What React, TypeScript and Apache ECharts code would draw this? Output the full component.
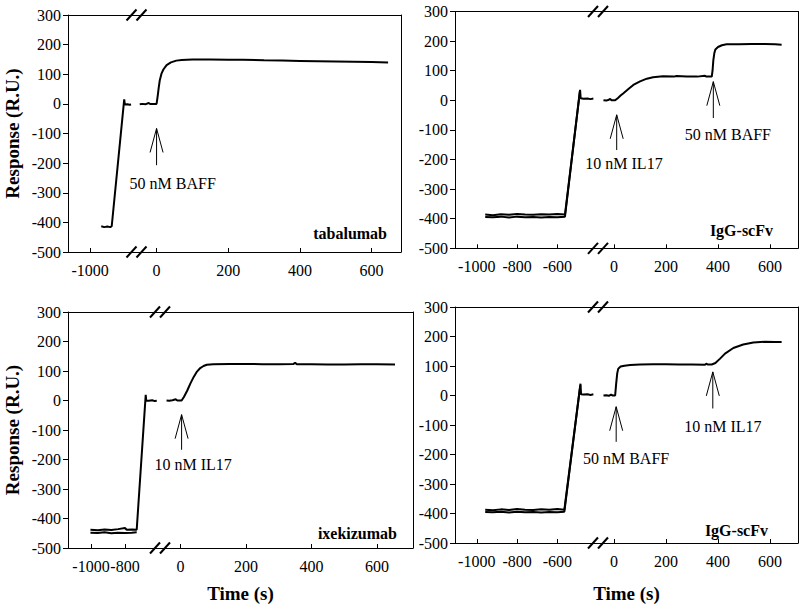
import React, { useEffect, useRef } from "react";
import * as echarts from "echarts";

// ---------- data (time in s, response in R.U.) ----------
const yMin = -500;
const yMax = 300;
const yStep = 100;

const tabalumabPre: [number, number][] = [
  [-945, -413], [-930, -416], [-915, -414], [-900, -416], [-893, -413],
  [-831, 15], [-828, -2], [-815, -1], [-805, -3], [-797, -2],
];
const tabalumabPost: [number, number][] = [
  [-47, -1], [-40, 0], [-30, -1], [-22, 3], [-18, 0], [-10, 0], [0, 0], [3, 25], [6, 55],
  [9, 80], [14, 103], [19, 116], [28, 131], [40, 140], [55, 146], [70, 148], [100, 150],
  [150, 150], [200, 149], [240, 149], [300, 147], [350, 146], [400, 145], [450, 144],
  [500, 143], [550, 142], [600, 141], [646, 140],
];

const scfv1PreA: [number, number][] = [
  [-958, -386], [-920, -388], [-880, -385], [-840, -387], [-800, -384], [-760, -386],
  [-720, -387], [-680, -385], [-640, -386], [-600, -384], [-562, -386], [-487, 35],
  [-484, 7], [-470, 5], [-450, 6], [-435, 4], [-421, 6],
];
const scfv1PreB: [number, number][] = [
  [-958, -394], [-920, -395], [-880, -393], [-840, -396], [-800, -393], [-760, -395],
  [-720, -394], [-680, -396], [-640, -394], [-600, -395], [-562, -393], [-488, 30],
];
const scfv1Post: [number, number][] = [
  [-41, 0], [-30, -1], [-20, 2], [-15, 5], [-10, 0], [0, 0], [4, 0], [15, 8], [25, 16],
  [36, 24], [55, 38], [74, 52], [100, 64], [126, 73], [150, 78], [188, 81], [230, 80],
  [240, 82], [280, 80], [320, 80], [350, 83], [355, 80], [376, 80], [379, 100], [382, 135],
  [386, 160], [390, 172], [400, 180], [415, 186], [433, 189], [480, 189], [530, 190],
  [580, 190], [620, 189], [645, 188],
];

const ixePreA: [number, number][] = [
  [-1003, -438], [-960, -440], [-920, -437], [-880, -439], [-840, -436], [-800, -432],
  [-790, -438], [-760, -437], [-731, -438], [-678, 19], [-675, 0], [-660, -1], [-640, 1],
  [-625, -2], [-613, -1],
];
const ixePreB: [number, number][] = [
  [-1003, -448], [-960, -449], [-920, -447], [-880, -450], [-840, -448], [-800, -449],
  [-760, -448], [-731, -447],
];
const ixePost: [number, number][] = [
  [-43, 0], [-35, -1], [-25, 1], [-15, 4], [-10, 0], [0, 0], [3, 0], [10, 12], [20, 33],
  [30, 58], [40, 80], [50, 98], [60, 110], [70, 117], [80, 121], [100, 123], [150, 124],
  [200, 124], [250, 123], [300, 123], [345, 124], [350, 128], [355, 123], [400, 123],
  [450, 122], [500, 122], [550, 123], [600, 123], [655, 122],
];

const scfv2PreA: [number, number][] = [
  [-958, -387], [-920, -389], [-880, -386], [-840, -388], [-800, -385], [-760, -387],
  [-720, -388], [-680, -386], [-640, -387], [-600, -385], [-565, -387], [-485, 40],
  [-482, 4], [-470, 3], [-450, 4], [-435, 2], [-421, 4],
];
const scfv2PreB: [number, number][] = [
  [-958, -395], [-920, -396], [-880, -394], [-840, -397], [-800, -394], [-760, -396],
  [-720, -395], [-680, -397], [-640, -395], [-600, -396], [-565, -394], [-486, 34],
];
const scfv2Post: [number, number][] = [
  [-41, 0], [-30, 1], [-20, -1], [-12, 3], [-5, 0], [0, 0], [4, 0], [8, 40], [12, 75],
  [16, 91], [25, 98], [40, 101], [62, 103], [100, 105], [150, 106], [200, 106], [250, 105],
  [300, 105], [350, 104], [355, 108], [360, 105], [376, 105], [390, 110], [408, 125],
  [427, 142], [459, 161], [497, 173], [536, 180], [580, 182], [620, 181], [645, 181],
];

// x tick labels of each axis segment
const ticksP1Left = [-1000];
const ticksP2Left = [-1000, -800, -600];
const ticksP3Left = [-1000, -800];
const ticksRight = [0, 200, 400, 600];

// injection arrows: [time, tip, tail, labelTime, labelY]
const arrowsP1: [number, number, number, number, number][] = [[0, -83, -207, 45, -268]];
const labelsP1 = ["50 nM BAFF"];
const arrowsP2: [number, number, number, number, number][] = [
  [10, -49, -168, 38, -212],
  [382, 63, -60, 438, -117],
];
const labelsP2 = ["10 nM IL17", "50 nM BAFF"];
const arrowsP3: [number, number, number, number, number][] = [[3, -48, -167, 38, -218]];
const labelsP3 = ["10 nM IL17"];
const arrowsP4: [number, number, number, number, number][] = [
  [8, -38, -157, 46, -213],
  [380, 80, -44, 419, -106],
];
const labelsP4 = ["50 nM BAFF", "10 nM IL17"];

const panelNames = ["tabalumab", "IgG-scFv", "ixekizumab", "IgG-scFv"];
const yTitle = "Response (R.U.)";
const xTitle = "Time (s)";

// ---------- layout ----------
const FONT = '"Liberation Serif", "Times New Roman", serif';
const layout = [
  { left: 68, right: 401, top: 15, bottom: 252, brk: 136.5, xl: [-1110, -770], xr: [-56, 682], nameX: 387, nameY: 233 },
  { left: 455, right: 798, top: 11.5, bottom: 248.3, brk: 598, xl: [-1108, -398], xr: [-62, 708], nameX: 773, nameY: 230 },
  { left: 68, right: 413, top: 312, bottom: 548, brk: 160, xl: [-1135, -594], xr: [-63, 710], nameX: 397, nameY: 533 },
  { left: 455, right: 798, top: 307, bottom: 543, brk: 598, xl: [-1108, -398], xr: [-62, 708], nameX: 768, nameY: 530 },
];

const panels = [
  { pre: [tabalumabPre], post: tabalumabPost, leftTicks: ticksP1Left, arrows: arrowsP1, labels: labelsP1 },
  { pre: [scfv1PreA, scfv1PreB], post: scfv1Post, leftTicks: ticksP2Left, arrows: arrowsP2, labels: labelsP2 },
  { pre: [ixePreA, ixePreB], post: ixePost, leftTicks: ticksP3Left, arrows: arrowsP3, labels: labelsP3 },
  { pre: [scfv2PreA, scfv2PreB], post: scfv2Post, leftTicks: ticksP2Left, arrows: arrowsP4, labels: labelsP4 },
];

const plain = (v: number) => String(v);

function buildOption() {
  const grids: any[] = [];
  const xAxes: any[] = [];
  const yAxes: any[] = [];
  const series: any[] = [];
  const graphic: any[] = [];
  const axisLine = { show: true, onZero: false, lineStyle: { color: "#000", width: 1 } };

  const bottomX = (gridIndex: number, range: number[], ticks: number[]) => ({
    type: "value", gridIndex, position: "bottom", min: range[0], max: range[1],
    axisLine, splitLine: { show: false },
    axisTick: { show: true, inside: true, length: 4, customValues: ticks, lineStyle: { color: "#000" } },
    axisLabel: { show: true, customValues: ticks, formatter: plain, fontFamily: FONT, fontSize: 16, color: "#000", margin: 10 },
  });
  const topX = (gridIndex: number, range: number[]) => ({
    type: "value", gridIndex, position: "top", min: range[0], max: range[1],
    axisLine, splitLine: { show: false }, axisTick: { show: false }, axisLabel: { show: false },
  });

  panels.forEach((pn, p) => {
    const L = layout[p];
    const h = L.bottom - L.top;
    const gL = grids.length;
    grids.push({ left: L.left, top: L.top, width: L.brk - L.left, height: h, outerBoundsMode: "none" });
    const gR = grids.length;
    grids.push({ left: L.brk, top: L.top, width: L.right - L.brk, height: h, outerBoundsMode: "none" });

    const xL = xAxes.length;
    xAxes.push(bottomX(gL, L.xl, pn.leftTicks));
    xAxes.push(topX(gL, L.xl));
    const xR = xAxes.length;
    xAxes.push(bottomX(gR, L.xr, ticksRight));
    xAxes.push(topX(gR, L.xr));

    const yL = yAxes.length;
    yAxes.push({
      type: "value", gridIndex: gL, position: "left", min: yMin, max: yMax, interval: yStep,
      axisLine, splitLine: { show: false },
      axisTick: { show: true, inside: false, length: 5, lineStyle: { color: "#000" } },
      axisLabel: { formatter: plain, fontFamily: FONT, fontSize: 16, color: "#000", margin: 7 },
    });
    const yR = yAxes.length;
    yAxes.push({
      type: "value", gridIndex: gR, position: "right", min: yMin, max: yMax, interval: yStep,
      axisLine, splitLine: { show: false }, axisTick: { show: false }, axisLabel: { show: false },
    });

    pn.pre.forEach((d) => {
      series.push({
        type: "line", xAxisIndex: xL, yAxisIndex: yL, data: d, symbol: "none", showSymbol: false,
        silent: true, lineStyle: { color: "#000", width: 2 },
      });
    });
    series.push({
      type: "line", xAxisIndex: xR, yAxisIndex: yR, data: pn.post, symbol: "none", showSymbol: false,
      silent: true, lineStyle: { color: "#000", width: 2 },
    });
    const labels = pn.labels;
    series.push({
      type: "custom", xAxisIndex: xR, yAxisIndex: yR, data: pn.arrows, clip: false, silent: true,
      encode: { x: 0, y: 1 },
      renderItem: (params: any, api: any) => {
        const t = api.value(0);
        const tip = api.coord([t, api.value(1)]);
        const tail = api.coord([t, api.value(2)]);
        const lab = api.coord([api.value(3), api.value(4)]);
        return {
          type: "group",
          children: [
            { type: "line", shape: { x1: tip[0], y1: tip[1], x2: tail[0], y2: tail[1] }, style: { stroke: "#000", lineWidth: 1 } },
            {
              type: "polyline",
              shape: { points: [[tip[0] - 6.5, tip[1] + 24], [tip[0], tip[1]], [tip[0] + 6.5, tip[1] + 24]] },
              style: { stroke: "#000", fill: null, lineWidth: 1 },
            },
            {
              type: "text", x: lab[0], y: lab[1],
              style: { text: labels[params.dataIndex], font: `16px ${FONT}`, fill: "#000", align: "center", verticalAlign: "middle" },
            },
          ],
        };
      },
    });

    // axis break marks
    [L.top, L.bottom].forEach((yy) => {
      [-5, 5].forEach((dx) => {
        graphic.push({
          type: "line", silent: true,
          shape: { x1: L.brk + dx - 5, y1: yy + 5.5, x2: L.brk + dx + 5, y2: yy - 5.5 },
          style: { stroke: "#000", lineWidth: 2 },
        });
      });
    });

    graphic.push({
      type: "text", x: L.nameX, y: L.nameY, silent: true,
      style: { text: panelNames[p], font: `bold 16px ${FONT}`, fill: "#000", align: "right", verticalAlign: "middle" },
    });
    if (p === 0 || p === 2) {
      graphic.push({
        type: "text", x: 12, y: (L.top + L.bottom) / 2, rotation: Math.PI / 2, silent: true,
        style: { text: yTitle, font: `bold 19px ${FONT}`, fill: "#000", align: "center", verticalAlign: "middle" },
      });
    }
    if (p === 2 || p === 3) {
      graphic.push({
        type: "text", x: (L.left + L.right) / 2, y: 593, silent: true,
        style: { text: xTitle, font: `bold 19px ${FONT}`, fill: "#000", align: "center", verticalAlign: "middle" },
      });
    }
  });

  return { animation: false, backgroundColor: "#fff", grid: grids, xAxis: xAxes, yAxis: yAxes, series, graphic };
}

export default function App() {
  const ref = useRef<HTMLDivElement>(null);
  useEffect(() => {
    if (!ref.current) return;
    const chart = echarts.init(ref.current, undefined, { renderer: "svg" });
    chart.setOption(buildOption() as any);
    return () => chart.dispose();
  }, []);
  return <div ref={ref} style={{ position: "absolute", left: 0, top: 0, width: 800, height: 613 }} />;
}
